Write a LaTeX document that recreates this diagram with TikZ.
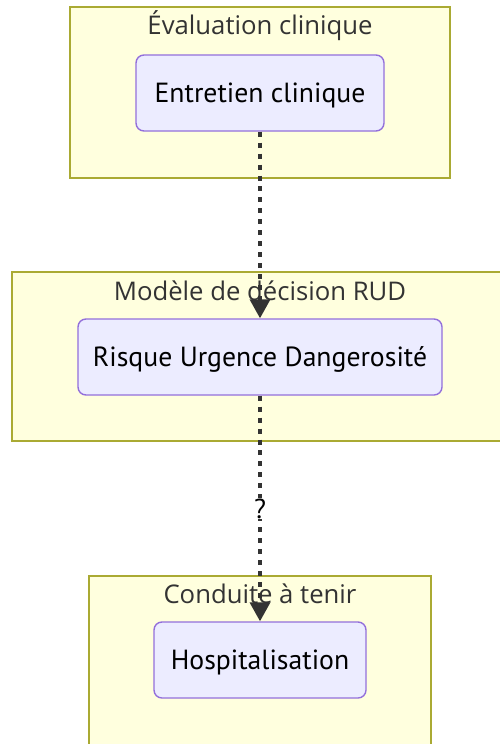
\documentclass[tikz,border=0pt]{standalone}
\usepackage{fontspec}
\setmainfont{Open Sans}
\newfontfamily\nodefont{PT Sans}
\usetikzlibrary{arrows.meta}
\definecolor{clfill}{HTML}{FFFFDE}
\definecolor{clline}{HTML}{AAAA33}
\definecolor{ndfill}{HTML}{ECECFF}
\definecolor{ndline}{HTML}{9370DB}
\definecolor{txt}{HTML}{333333}
\tikzset{
  cluster/.style={draw=clline, fill=clfill, line width=1.3pt},
  cltitle/.style={text=txt, font=\fontsize{25.8}{28}\selectfont, inner sep=0pt},
  box/.style={draw=ndline, fill=ndfill, line width=1.4pt, rounded corners=8pt, font=\nodefont\fontsize{27.8}{30}\selectfont, inner sep=0pt, text depth=0pt},
  link/.style={draw=txt, line width=3.6pt, dash pattern=on 5pt off 6pt, -{Triangle[length=19pt,width=20pt]}, shorten >=0pt},
  lbl/.style={fill=white, font=\nodefont\fontsize{27.5}{30}\selectfont, inner sep=1pt}
}
\begin{document}
\begin{tikzpicture}[x=1bp, y=-1bp]
\useasboundingbox (0,0) rectangle (500,744);
\clip (0,0) rectangle (500,744);
\path[cluster] (70,7) rectangle (450,178);
\path[cluster] (12,272) rectangle (506,441);
\path[cluster] (89,576) rectangle (431,760);
\node[cltitle] (t1) at (260,26) {Évaluation clinique};
\node[cltitle] (t2) at (260,291) {Modèle de décision RUD};
\node[cltitle] (t3) at (260,594) {Conduite à tenir};
\node[box, minimum width=248bp, minimum height=76bp] (a) at (260,93) {Entretien clinique};
\node[box, minimum width=364bp, minimum height=76bp] (b) at (260,357) {Risque Urgence Dangerosité};
\node[box, minimum width=212bp, minimum height=76bp] (c) at (260,660) {Hospitalisation};
\draw[link] (a.south) -- (b.north);
\draw[link] (b.south) -- node[lbl] (q) {?} (c.north);
\end{tikzpicture}
\end{document}
